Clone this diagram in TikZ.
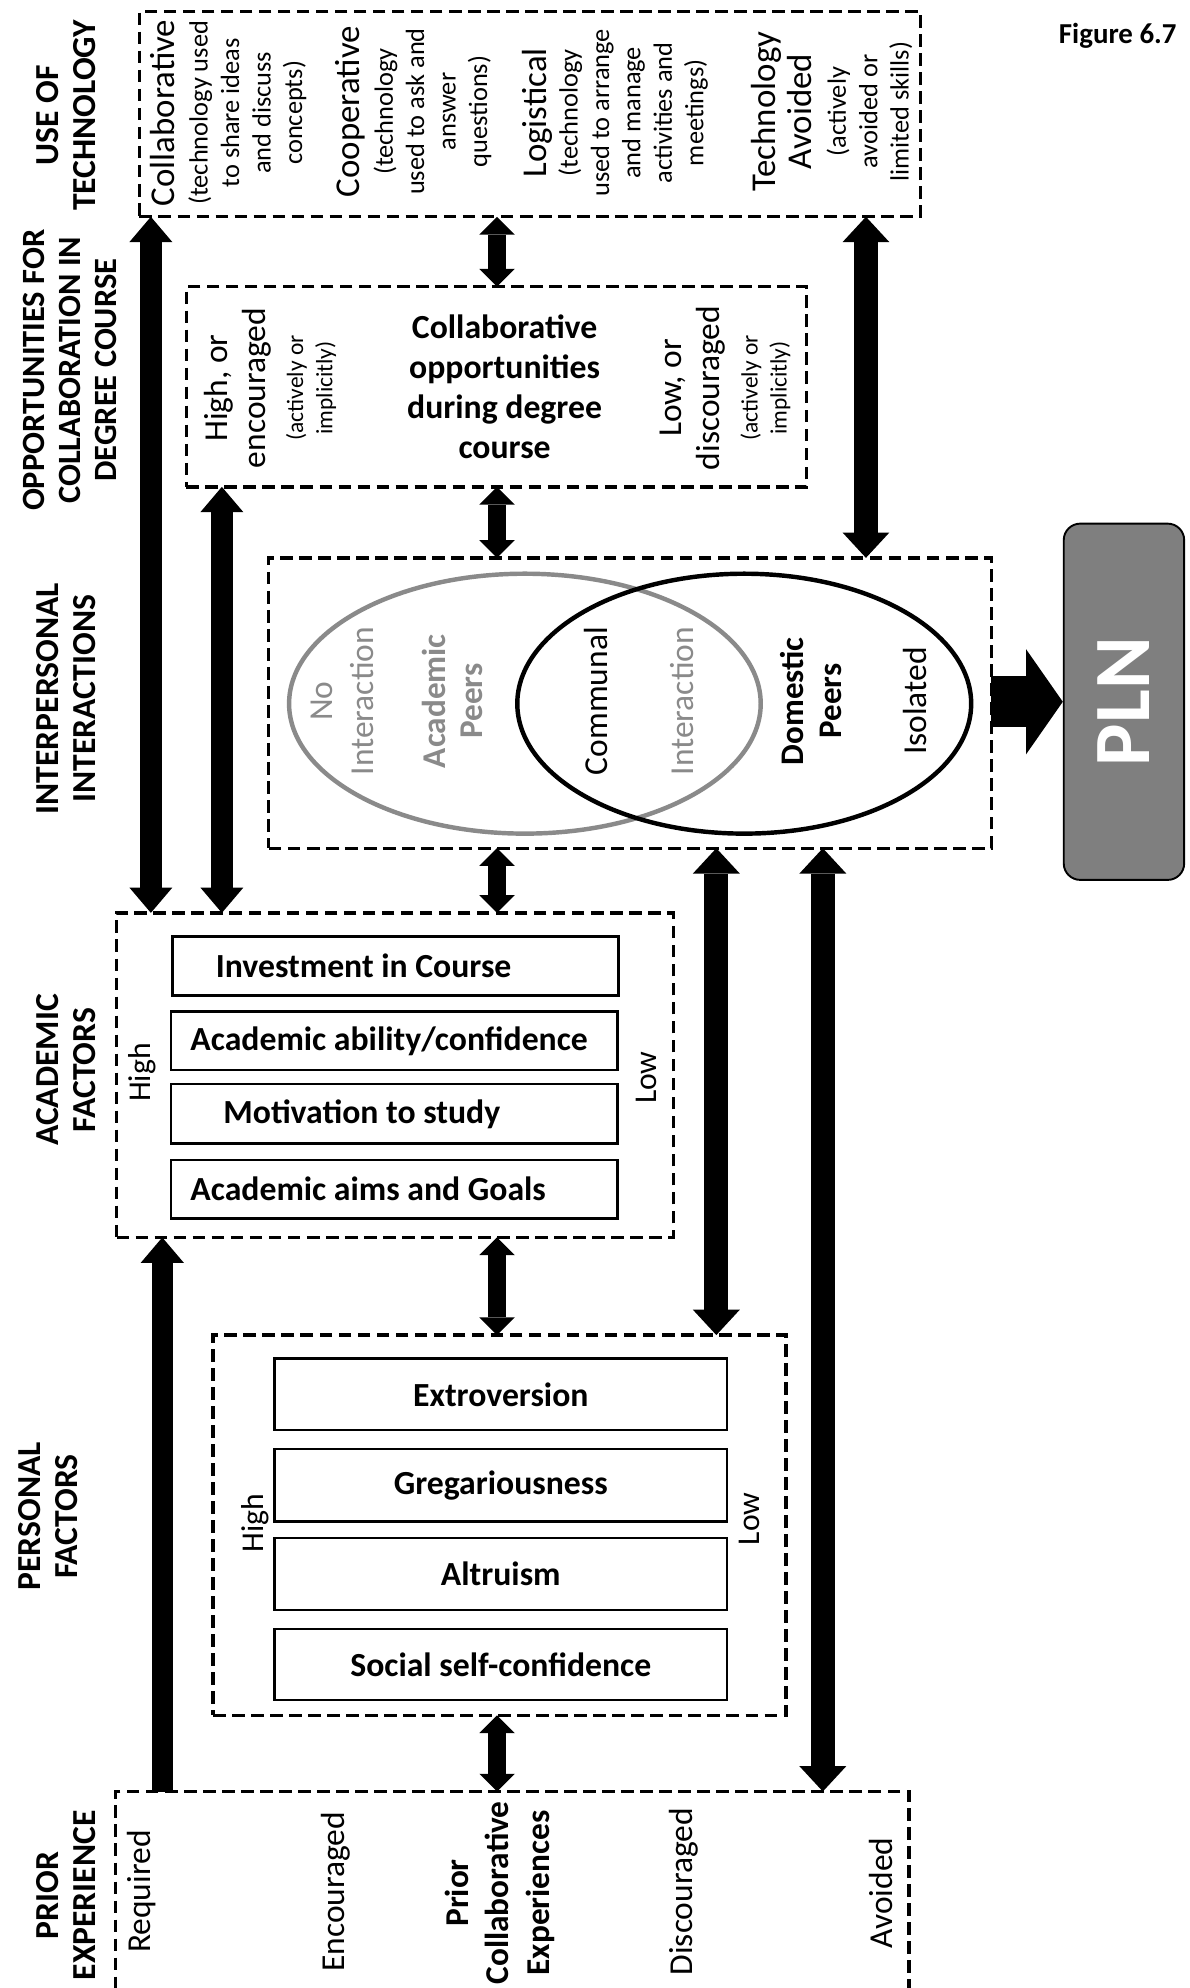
\documentclass[tikz,border=0pt]{standalone}
\usepackage{fontspec}
\usepackage{graphicx}
\usetikzlibrary{arrows.meta,shapes.geometric,fit}
\newfontfamily\cbfont{Carlito}
\newcommand\setfs[2]{\fontsize{#1}{#2}\selectfont}
\definecolor{ringgray}{RGB}{138,138,138}
\definecolor{plngray}{RGB}{127,127,127}

\tikzset{
  dbox/.style={draw, line width=2.6pt, dash pattern=on 10pt off 5pt, inner sep=0pt, outer sep=0pt},
  ibox/.style={draw, line width=2pt, inner sep=0pt, outer sep=0pt, anchor=north west},
  head/.style={inner sep=0pt, align=center, rotate=90, font=\cbfont\bfseries\setfs{26.5}{29.5}},
  rtxt/.style={inner sep=0pt, align=center, rotate=90},
  reg/.style={font=\cbfont\setfs{26.4}{32}},
  itxt/.style={inner sep=0pt, font=\cbfont\bfseries\setfs{26.6}{32}},
  bigtip/.tip={Triangle[width=34pt,length=20pt,line width=0pt]},
  shorttip/.tip={Triangle[width=28pt,length=14pt,line width=0pt]},
  widetip/.tip={Triangle[width=37pt,length=20pt,line width=0pt]},
  plntip/.tip={Triangle[width=83pt,length=29pt,line width=0pt]},
  bigarr/.style={line width=17pt, arrows={bigtip-bigtip}},
  bigone/.style={line width=17pt, arrows={-bigtip}},
  shortarr/.style={line width=14pt, arrows={shorttip-shorttip}},
  widearr/.style={line width=19pt, arrows={widetip-widetip}},
  plnarr/.style={line width=40pt, arrows={-plntip}},
}

\begin{document}
\begin{tikzpicture}[x=1pt,y=-1pt]
\useasboundingbox (0,0) rectangle (938,1568);
\fill[white] (0,0) rectangle (938,1568);

% ---------- dashed frames ----------
\node[dbox, fit={(110,9) (726,171)}] (tech) {};
\node[dbox, fit={(147,226) (636,384)}] (opp) {};
\node[dbox, fit={(212,440) (782,669)}] (inter) {};
\node[dbox, fit={(92,720) (531,976)}] (acad) {};
\node[dbox, fit={(168,1053) (620,1353)}] (pers) {};
\node[dbox, fit={(91,1413) (717,1620)}] (prior) {};

% ---------- row headings ----------
\node[head] (hTech) at (52,91) {USE OF\\TECHNOLOGY};
\node[head, font=\cbfont\bfseries\setfs{25.6}{28.5}] (hOpp) at (55,292) {OPPORTUNITIES FOR\\COLLABORATION IN\\DEGREE COURSE};
\node[head] (hInter) at (52,551) {INTERPERSONAL\\INTERACTIONS};
\node[head] (hAcad) at (52,844) {ACADEMIC\\FACTORS};
\node[head] (hPers) at (38,1196) {PERSONAL\\FACTORS};
\node[head] (hPrior) at (52,1495) {PRIOR\\EXPERIENCE};

\node[inner sep=0pt, anchor=base west, font=\cbfont\bfseries\setfs{22.8}{26}] (fig) at (835,34) {Figure 6.7};

% ---------- use of technology ----------
\node[rtxt, font=\cbfont\setfs{20.8}{24.8}] (tCollab) at (180,89)
  {{\setfs{27.5}{24.8}Collaborative}\\[1.5pt](technology used\\to share ideas\\and discuss\\concepts)};
\node[rtxt, font=\cbfont\setfs{20.8}{24.8}] (tCoop) at (326,88)
  {{\setfs{27.5}{24.8}Cooperative}\\[1.5pt](technology\\used to ask and\\answer\\questions)};
\node[rtxt, font=\cbfont\setfs{20.8}{24.8}] (tLog) at (485,89)
  {{\setfs{27.5}{24.8}Logistical}\\(technology\\used to arrange\\and manage\\activities and\\meetings)};
\node[rtxt, font=\cbfont\setfs{20.8}{24.8}] (tAvoid) at (656,88)
  {{\setfs{27.5}{24.8}Technology}\\[4pt]{\setfs{27.5}{24.8}Avoided}\\[2pt](actively\\avoided or\\limited skills)};

% ---------- opportunities ----------
\node[rtxt, font=\cbfont\setfs{18.5}{23}] (oHigh) at (213,306)
  {{\setfs{26.4}{23}High, or}\\[7pt]{\setfs{26.4}{23}encouraged}\\[7pt](actively or\\implicitly)};
\node[rtxt, font=\cbfont\setfs{18.5}{23}] (oLow) at (572,306)
  {{\setfs{26.4}{23}Low, or}\\[7pt]{\setfs{26.4}{23}discouraged}\\[7pt](actively or\\implicitly)};
\node[inner sep=0pt, align=center, font=\cbfont\bfseries\setfs{26.6}{31.5}] (oMid) at (398,305)
  {Collaborative\\opportunities\\during degree\\course};

% ---------- interpersonal interactions ----------
\node[ellipse, draw=ringgray, line width=3.5pt, inner sep=0pt, minimum width=372pt, minimum height=205pt] (acRing) at (414,555) {};
\node[ellipse, draw=black, line width=3.5pt, inner sep=0pt, minimum width=358pt, minimum height=205pt] (domRing) at (587,555) {};
\node[rtxt, text=ringgray, font=\cbfont\setfs{26.4}{32}] (noInt) at (270,553) {No\\Interaction};
\node[rtxt, text=ringgray, font=\cbfont\bfseries\setfs{26.2}{29}] (acPeers) at (357,553) {Academic\\Peers};
\node[rtxt, reg] (commun) at (470,553) {Communal};
\node[rtxt, reg, text=ringgray] (interact) at (538,553) {Interaction};
\node[rtxt, font=\cbfont\bfseries\setfs{26}{30}] (domPeers) at (640,553) {Domestic\\Peers};
\node[rtxt, reg] (isol) at (722,553) {Isolated};

% ---------- PLN ----------
\node[draw, line width=1.5pt, fill=plngray, rounded corners=13pt, minimum width=95pt, minimum height=281pt,
      inner sep=0pt, text=white, font=\cbfont\bfseries\setfs{63}{63}] (pln) at (886.5,553.5) {\rotatebox{90}{PLN}};

% ---------- academic factors ----------
\node[rtxt, font=\cbfont\setfs{25}{28}] (aHigh) at (112,846) {High};
\node[rtxt, font=\cbfont\setfs{25}{28}] (aLow) at (510,850) {Low};
\node[ibox, minimum width=352pt, minimum height=46.5pt] (ac1) at (136,738.6) {};
\node[ibox, minimum width=352pt, minimum height=46pt] (ac2) at (135,798) {};
\node[ibox, minimum width=352pt, minimum height=47pt] (ac3) at (135,855) {};
\node[ibox, minimum width=352pt, minimum height=46pt] (ac4) at (135,915) {};
\node[itxt, anchor=west] (ac1t) at ([xshift=34pt]ac1.west) {Investment in Course};
\node[itxt, anchor=west] (ac2t) at ([xshift=15pt]ac2.west) {Academic ability/confidence};
\node[itxt, anchor=west] (ac3t) at ([xshift=41pt]ac3.west) {Motivation to study};
\node[itxt, anchor=west] (ac4t) at ([xshift=15pt]ac4.west) {Academic aims and Goals};

% ---------- personal factors ----------
\node[rtxt, font=\cbfont\setfs{25}{28}] (pHigh) at (201,1201) {High};
\node[rtxt, font=\cbfont\setfs{25}{28}] (pLow) at (591,1198) {Low};
\node[ibox, itxt, minimum width=357pt, minimum height=56.5pt] (pf1) at (216.5,1071.5) {Extroversion};
\node[ibox, itxt, minimum width=357pt, minimum height=57pt] (pf2) at (216.5,1143) {Gregariousness};
\node[ibox, itxt, minimum width=357pt, minimum height=57pt] (pf3) at (216.5,1213) {Altruism};
\node[ibox, itxt, minimum width=357pt, minimum height=56pt] (pf4) at (216.5,1285) {Social self-confidence};

% ---------- prior experience ----------
\node[rtxt, reg] (prReq) at (112,1492) {Required};
\node[rtxt, reg] (prEnc) at (265,1492) {Encouraged};
\node[rtxt, font=\cbfont\bfseries\setfs{26.3}{32}] (prMid) at (394,1493) {Prior\\Collaborative\\Experiences};
\node[rtxt, reg] (prDis) at (539,1492) {Discouraged};
\node[rtxt, reg] (prAvo) at (695,1493) {Avoided};

% ---------- connector columns ----------
\coordinate (cA) at (119,0);
\coordinate (cB) at (175,0);
\coordinate (cC) at (128,0);
\coordinate (cM) at (392,0);
\coordinate (cP) at (565,0);
\coordinate (cQ) at (649,0);
\coordinate (cR) at (683,0);

\draw[bigarr] (tech.south -| cA) -- (acad.north -| cA);
\draw[bigarr] (opp.south -| cB) -- (acad.north -| cB);
\draw[bigone] (prior.north -| cC) -- (acad.south -| cC);
\draw[shortarr] (tech.south -| cM) -- (opp.north -| cM);
\draw[shortarr] (opp.south -| cM) -- (inter.north -| cM);
\draw[shortarr] (inter.south -| cM) -- (acad.north -| cM);
\draw[shortarr] (acad.south -| cM) -- (pers.north -| cM);
\draw[shortarr] (pers.south -| cM) -- (prior.north -| cM);
\draw[widearr] (tech.south -| cR) -- (inter.north -| cR);
\draw[widearr] (inter.south -| cP) -- (pers.north -| cP);
\draw[widearr] (inter.south -| cQ) -- (prior.north -| cQ);
\draw[plnarr] (inter.east |- pln.west) -- (pln.west);
\end{tikzpicture}
\end{document}
